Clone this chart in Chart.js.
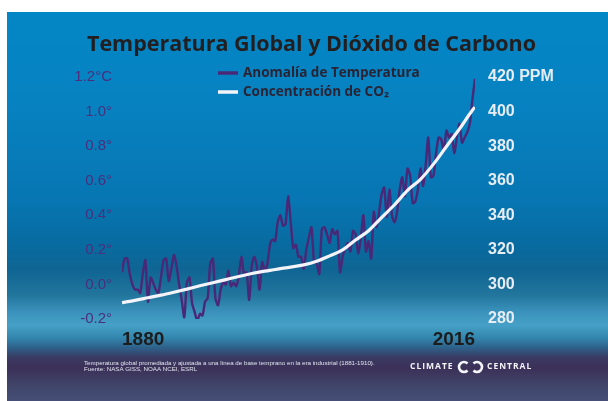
<!DOCTYPE html>
<html><head><meta charset="utf-8">
<script src="https://cdn.jsdelivr.net/npm/chart.js@4.4.1/dist/chart.umd.min.js"></script>
<style>html,body{margin:0;padding:0;background:#fff;overflow:hidden}#wrap{width:608px;height:401px;position:relative}</style>
</head><body><div id="wrap"><canvas id="c" width="608" height="401"></canvas></div>
<script>
// ---- data ----
const firstYear = 1880;
const tempAnomaly = [
 0.07,0.15,0.15,0.06,0.00,-0.03,-0.03,-0.05,0.06,0.14,
 -0.10,0.04,0.01,-0.03,-0.05,0.04,0.14,0.15,0.02,0.09,
 0.17,0.11,0.00,-0.09,-0.19,0.01,0.04,-0.11,-0.16,-0.21,
 -0.17,-0.18,-0.10,-0.08,0.12,0.15,-0.08,-0.12,-0.03,0.01,
 0.00,0.08,-0.01,0.01,-0.01,0.05,0.16,0.06,0.07,-0.09,
 0.11,0.16,0.10,-0.03,0.13,0.08,0.12,0.23,0.26,0.25,
 0.36,0.40,0.34,0.35,0.51,0.36,0.21,0.23,0.16,0.16,
 0.09,0.20,0.27,0.33,0.13,0.12,0.06,0.32,0.33,0.29,
 0.24,0.32,0.29,0.31,0.07,0.16,0.21,0.24,0.19,0.31,
 0.29,0.18,0.27,0.40,0.19,0.25,0.15,0.42,0.33,0.41,
 0.52,0.56,0.39,0.55,0.40,0.36,0.42,0.55,0.62,0.51,
 0.67,0.63,0.47,0.48,0.55,0.67,0.57,0.69,0.85,0.62,
 0.63,0.76,0.85,0.84,0.77,0.89,0.85,0.87,0.76,0.85,
 0.93,0.82,0.85,0.88,0.93,1.07,1.19
];
const years = tempAnomaly.map((_, i) => firstYear + i);
const co2Years = [1880,1885,1890,1895,1900,1905,1910,1915,1920,1925,1930,1935,1940,1945,1950,1955,1960,1965,1970,1975,1980,1985,1990,1995,2000,2005,2010,2015,2016];
const co2Ppm   = [289.5,290.8,292.3,293.8,295.5,297.3,299.2,301.0,302.8,304.6,306.3,307.7,308.9,310.0,311.3,313.4,316.5,320.0,325.7,331.1,338.7,346.1,354.4,360.8,369.6,379.8,389.9,400.8,402.5];
const xTickYears = [1880, 2016];
const seriesLabels = ['Anomalía de Temperatura', 'Concentración de CO\u2082'];
const titleText = 'Temperatura Global y Dióxido de Carbono';
const footnoteLines = [
 'Temperatura global promediada y ajustada a una línea de base temprano en la era industrial (1881-1910).',
 'Fuente: NASA GISS, NOAA NCEI, ESRL'
];

const NUMFONT = '"Liberation Sans", Roboto, sans-serif';
const SANS = '"Open Sans", Lato, sans-serif';

const bgPlugin = {
  id: 'bg',
  beforeDraw(chart) {
    const ctx = chart.ctx;
    ctx.save();
    ctx.fillStyle = '#ffffff';
    ctx.fillRect(0, 0, chart.width, chart.height);
    const g = ctx.createLinearGradient(0, 12, 0, 401);
    const stops = [
      [0, '#0386c5'], [0.226, '#0782c1'], [0.483, '#0776b2'], [0.599, '#086ba0'],
      [0.663, '#0f6593'], [0.728, '#22769d'], [0.771, '#3a92bc'], [0.805, '#46a0c6'],
      [0.838, '#3286ae'], [0.864, '#2e5f88'], [0.889, '#3a3a62'], [0.915, '#3c3058'],
      [0.959, '#404468'], [1, '#464f78']
    ];
    stops.forEach(s => g.addColorStop(s[0], s[1]));
    ctx.fillStyle = g;
    ctx.fillRect(7, 12, chart.width - 7, chart.height - 12);
    ctx.restore();
  }
};

const decoPlugin = {
  id: 'deco',
  afterDraw(chart) {
    const ctx = chart.ctx;
    ctx.save();
    // legend
    chart.data.datasets.forEach((ds, i) => {
      const y = 73 + i * 19;
      ctx.strokeStyle = ds.borderColor;
      ctx.lineWidth = 3.5;
      ctx.beginPath(); ctx.moveTo(218, y); ctx.lineTo(238, y); ctx.stroke();
      ctx.fillStyle = '#2a2333';
      ctx.font = 'bold 13.5px ' + SANS;
      ctx.textBaseline = 'middle';
      ctx.textAlign = 'left';
      ctx.fillText(ds.label, 243, y);
    });
    // footnote
    ctx.fillStyle = '#dfe3ee';
    ctx.font = '6.2px "Liberation Sans", sans-serif';
    ctx.textBaseline = 'middle';
    footnoteLines.forEach((t, i) => ctx.fillText(t, 84, 363 + i * 6.5));
    // logo
    ctx.fillStyle = '#f2f4f8';
    ctx.font = 'bold 8.5px ' + SANS;
    ctx.letterSpacing = '1px';
    ctx.textAlign = 'left';
    ctx.fillText('CLIMATE', 410, 367);
    ctx.fillText('CENTRAL', 487, 367);
    ctx.letterSpacing = '0px';
    ctx.strokeStyle = '#f2f4f8';
    ctx.lineWidth = 2.6;
    ctx.beginPath(); ctx.arc(464, 367, 5, Math.PI * 0.25, Math.PI * 1.75, false); ctx.stroke();
    ctx.beginPath(); ctx.arc(477, 367, 5, Math.PI * 1.25, Math.PI * 0.75, false); ctx.stroke();
    ctx.restore();
  }
};

new Chart(document.getElementById('c'), {
  type: 'line',
  data: {
    datasets: [
      { label: seriesLabels[0], data: tempAnomaly.map((v, i) => ({ x: years[i], y: v })),
        yAxisID: 'y', borderColor: '#4a2878', borderWidth: 2.4, tension: 0.25, pointRadius: 0, order: 2 },
      { label: seriesLabels[1], data: co2Ppm.map((v, i) => ({ x: co2Years[i], y: v })),
        yAxisID: 'y2', borderColor: '#f3f3f8', borderWidth: 3.2, cubicInterpolationMode: 'monotone', pointRadius: 0, order: 1 }
    ]
  },
  options: {
    responsive: false, animation: false,
    layout: { padding: { left: 70, right: 55, top: 12, bottom: 42 } },
    plugins: {
      legend: { display: false }, tooltip: { enabled: false },
      title: { display: true, text: titleText, color: '#231f20',
        font: { family: '"Open Sans", sans-serif', size: 21.5, weight: 'bold', lineHeight: 1.2 },
        padding: { top: 19.5, bottom: 19.7 } }
    },
    scales: {
      x: { type: 'linear', min: 1880, max: 2016,
        grid: { display: false, drawTicks: false }, border: { display: false },
        afterBuildTicks: s => { s.ticks = xTickYears.map(v => ({ value: v })); },
        afterFit: s => { s.height = 40; },
        ticks: { align: 'inner', padding: 9, color: '#1c1c1c', maxRotation: 0, autoSkip: false,
          font: { family: NUMFONT, size: 19, weight: 'bold' }, callback: v => String(v) } },
      y: { position: 'left', min: -0.2, max: 1.2,
        grid: { display: false, drawTicks: false }, border: { display: false },
        afterFit: s => { s.width = 52; },
        ticks: { stepSize: 0.2, padding: 10, color: '#4a2f7e', crossAlign: 'near',
          font: { family: NUMFONT, size: 15 },
          callback: v => { const r = Math.round(v * 10) / 10; return Math.abs(r - 1.2) < 1e-6 ? '1.2°C' : r.toFixed(1) + '°'; } } },
      y2: { position: 'right', min: 280, max: 420,
        grid: { display: false, drawTicks: false }, border: { display: false },
        afterFit: s => { s.width = 78; },
        ticks: { stepSize: 20, padding: 13, color: '#e8edf4',
          font: { family: NUMFONT, size: 16, weight: 'bold' },
          callback: v => v === 420 ? '420 PPM' : String(v) } }
    }
  },
  plugins: [bgPlugin, decoPlugin]
});
</script></body></html>
